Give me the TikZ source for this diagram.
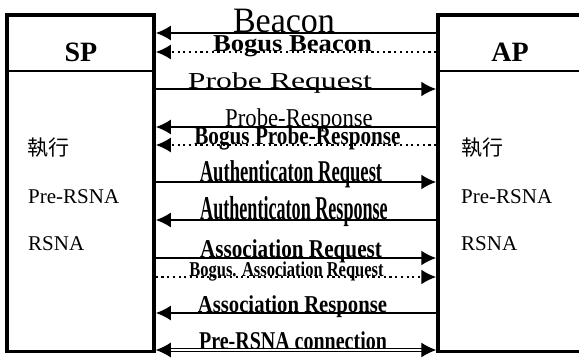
\documentclass[tikz,border=0pt]{standalone}
\usepackage{fontspec}
\setmainfont{Liberation Serif}
\newfontfamily\cjkfont{Noto Sans CJK TC}
\usetikzlibrary{arrows.meta}

\tikzset{
  station/.style={draw, line width=3.5pt, inner sep=0pt, minimum height=336.5pt},
  msg/.style={line width=2pt},
  bogus/.style={msg, dash pattern=on 2.2pt off 3.5pt},
  tip/.style={-{Latex[length=15pt,width=15pt]}},
  lbl/.style={anchor=base, inner sep=0pt},
  body/.style={anchor=base west, inner sep=0pt, font=\fontsize{21}{23}\selectfont},
}

\begin{document}
\begin{tikzpicture}[x=1pt,y=-1pt]
  \useasboundingbox (0,0) rectangle (579,358);

  % Stationen
  \node[station, minimum width=147pt] (sp) at (80.5,183.25) {};
  \node[station, minimum width=182pt] (ap) at (529,183.25) {};
  \draw[line width=1.2pt] (sp.west |- 0,71) -- (sp.east |- 0,71);
  \draw[line width=1.2pt] (ap.west |- 0,71) -- (ap.east |- 0,71);
  \node[lbl, font=\fontsize{28}{30}\selectfont\bfseries] (sptitle) at (81,62) {SP};
  \node[lbl, font=\fontsize{28}{30}\selectfont\bfseries] (aptitle) at (510,62) {AP};

  % Texte in den Boxen
  \node[anchor=west, inner sep=0pt, font=\fontsize{21}{23}\cjkfont] (spexec) at (27,147.5) {執行};
  \node[body] (sppre) at (28,204) {Pre-RSNA};
  \node[body] (sprsna) at (28,251) {RSNA};
  \node[anchor=west, inner sep=0pt, font=\fontsize{21}{23}\cjkfont] (apexec) at (461,147.5) {執行};
  \node[body] (appre) at (461,204) {Pre-RSNA};
  \node[body] (aprsna) at (461,251) {RSNA};

  % Nachrichten
  \node[lbl, font=\fontsize{34}{36}\selectfont, yscale=1.05] (beacon) at (284,33) {Beacon};
  \node[lbl, font=\fontsize{26.6}{28}\selectfont\bfseries, yscale=0.91] (bbeacon) at (292.5,52) {Bogus Beacon};
  \node[lbl, font=\fontsize{31.7}{33}\selectfont, yscale=0.72] (preq) at (280,89) {Probe Request};
  \node[lbl, font=\fontsize{22.7}{24}\selectfont, yscale=1.13] (presp) at (299,127) {Probe-Response};
  \node[lbl, font=\fontsize{21.2}{23}\selectfont\bfseries, yscale=1.21] (bpresp) at (297.5,145) {Bogus Probe-Response};
  \node[lbl, font=\fontsize{18.6}{20}\selectfont\bfseries, yscale=1.62] (areq) at (291,182) {Authenticaton Request};
  \node[lbl, font=\fontsize{18.1}{20}\selectfont\bfseries, yscale=1.84] (aresp) at (294,220) {Authenticaton Response};
  \node[lbl, font=\fontsize{21.2}{23}\selectfont\bfseries, yscale=1.21] (asreq) at (291,258) {Association Request};
  \node[lbl, font=\fontsize{16.5}{18}\selectfont\bfseries, yscale=1.28] (basreq) at (286.5,277) {Bogus. Association Request};
  \node[lbl, font=\fontsize{20.7}{22}\selectfont\bfseries, yscale=1.17] (asresp) at (292.5,313) {Association Response};
  \node[lbl, font=\fontsize{20}{22}\selectfont\bfseries, yscale=1.28] (conn) at (293,350) {Pre-RSNA connection};

  % Pfeile
  \draw[msg, tip] (ap.west |- beacon.base) -- (sp.east |- beacon.base);
  \draw[bogus, tip] (ap.west |- bbeacon.base) -- (sp.east |- bbeacon.base);
  \draw[msg, tip] (sp.east |- preq.base) -- (ap.west |- preq.base);
  \draw[msg, tip] (ap.west |- presp.base) -- (sp.east |- presp.base);
  \draw[bogus, tip] (ap.west |- bpresp.base) -- (sp.east |- bpresp.base);
  \draw[msg, tip] (sp.east |- areq.base) -- (ap.west |- areq.base);
  \draw[msg, tip] (ap.west |- aresp.base) -- (sp.east |- aresp.base);
  \draw[msg, tip] (sp.east |- asreq.base) -- (ap.west |- asreq.base);
  \draw[bogus, tip] (sp.east |- basreq.base) -- (ap.west |- basreq.base);
  \draw[msg, tip] (ap.west |- asresp.base) -- (sp.east |- asresp.base);
  \draw[line width=1.2pt, double, double distance=2.4pt, {Latex[length=15pt,width=15pt]}-{Latex[length=15pt,width=15pt]}] (sp.east |- conn.base) -- (ap.west |- conn.base);
\end{tikzpicture}
\end{document}
